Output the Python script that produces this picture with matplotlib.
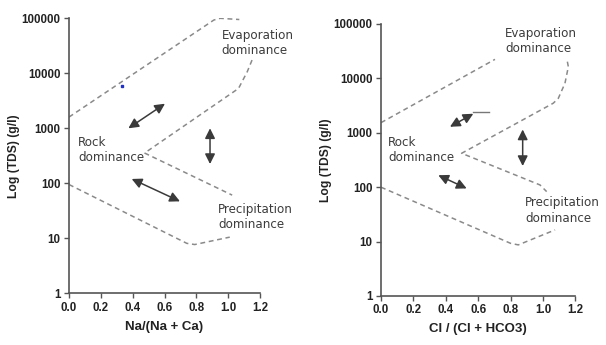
import matplotlib
matplotlib.use("Agg")
import matplotlib.pyplot as plt
from matplotlib.ticker import FixedLocator, FixedFormatter, NullLocator

# ---------------- data ----------------
x_ticks = [0.0, 0.2, 0.4, 0.6, 0.8, 1.0, 1.2]
x_tick_labels = ["0.0", "0.2", "0.4", "0.6", "0.8", "1.0", "1.2"]
y_ticks = [1, 10, 100, 1000, 10000, 100000]
y_tick_labels = ["1", "10", "100", "1000", "10000", "100000"]

# Left panel: Na/(Na + Ca)
na_upper_x = [0.0, 0.91, 0.95, 1.07]
na_upper_y = [1600, 93000, 100000, 95000]
na_mid_x = [1.15, 1.12, 1.065, 0.475, 1.025]
na_mid_y = [17400, 10700, 5300, 355, 61]
na_lower_x = [0.0, 0.74, 0.79, 1.01]
na_lower_y = [95, 8.1, 7.7, 10.5]
na_dot_x = [0.331]
na_dot_y = [5900]
na_arrows = [((0.373, 1000), (0.603, 2800)),
             ((0.886, 1000), (0.886, 224)),
             ((0.394, 120), (0.697, 47))]
na_labels = ["Evaporation\ndominance", "Rock\ndominance", "Precipitation\ndominance"]
na_label_pos = [(0.959, 64000), (0.058, 720), (0.938, 44)]

# Right panel: Cl / (Cl + HCO3)
cl_upper_x = [0.0, 0.704]
cl_upper_y = [1535, 22400]
cl_mid_x = [1.151, 1.157, 1.136, 1.095, 1.064, 0.498, 0.982, 1.023]
cl_mid_y = [20300, 16400, 8100, 4300, 3500, 420, 110, 83]
cl_lower_x = [0.0, 0.80, 0.848, 1.075]
cl_lower_y = [100, 9.3, 8.7, 16.4]
cl_mark_x = [0.57, 0.67]
cl_mark_y = [2450, 2450]
cl_arrows = [((0.426, 1290), (0.570, 2240)),
             ((0.875, 1150), (0.875, 245)),
             ((0.354, 166), (0.529, 95))]
cl_labels = ["Evaporation\ndominance", "Rock\ndominance", "Precipitation\ndominance"]
cl_label_pos = [(0.766, 89000), (0.045, 870), (0.889, 68)]

# ---------------- style ----------------
DASH_COLOR = "#8a8a8a"
ARROW_COLOR = "#3a3a3a"
TEXT_COLOR = "#3c3c3c"
SPINE_COLOR = "#555555"
LABEL_FONT = dict(family="Liberation Sans", weight="bold")

fig = plt.figure(figsize=(6.06, 3.45), dpi=100)
fig.patch.set_facecolor("white")

ax1 = fig.add_axes([69 / 606, 1 - 293.3 / 345, 191 / 606, 275 / 345])
ax2 = fig.add_axes([381 / 606, 1 - 296 / 345, 194.3 / 606, 272 / 345])


def style_axes(ax, xlabel):
    ax.set_yscale("log")
    ax.set_xlim(0, 1.2)
    ax.set_ylim(1, 100000)
    ax.xaxis.set_major_locator(FixedLocator(x_ticks))
    ax.xaxis.set_major_formatter(FixedFormatter(x_tick_labels))
    ax.yaxis.set_major_locator(FixedLocator(y_ticks))
    ax.yaxis.set_major_formatter(FixedFormatter(y_tick_labels))
    ax.yaxis.set_minor_locator(NullLocator())
    ax.xaxis.set_minor_locator(NullLocator())
    for s in ["top", "right"]:
        ax.spines[s].set_visible(False)
    for s in ["left", "bottom"]:
        ax.spines[s].set_color(SPINE_COLOR)
        ax.spines[s].set_linewidth(1.2)
    ax.tick_params(direction="out", length=3.5, width=1.0, color=SPINE_COLOR,
                   pad=2.5, labelcolor="#222222", labelsize=8.3,
                   labelfontfamily="Liberation Sans")
    for lab in ax.get_xticklabels() + ax.get_yticklabels():
        lab.set_fontweight("bold")
    ax.set_xlabel(xlabel, fontsize=9.5, color="#222222", labelpad=5, **LABEL_FONT)
    ax.set_ylabel("Log (TDS) (g/l)", fontsize=8.7, color="#222222", **LABEL_FONT)
    ax.set_facecolor("white")


def draw_panel(ax, lines, arrows, labels, label_pos):
    for xs, ys in lines:
        ax.plot(xs, ys, color=DASH_COLOR, lw=1.1, linestyle=(0, (3.2, 2.4)),
                solid_capstyle="butt", dash_capstyle="butt")
    for (p0, p1) in arrows:
        ax.annotate("", xy=p1, xytext=p0,
                    arrowprops=dict(arrowstyle="<|-|>,head_length=0.6,head_width=0.3",
                                    color=ARROW_COLOR, lw=1.1,
                                    shrinkA=0, shrinkB=0))
    for txt, (x, y) in zip(labels, label_pos):
        ax.text(x, y, txt, ha="left", va="top", fontsize=8.6, color=TEXT_COLOR,
                family="DejaVu Sans", linespacing=1.22, clip_on=False)


style_axes(ax1, "Na/(Na + Ca)")
draw_panel(ax1,
           [(na_upper_x, na_upper_y), (na_mid_x, na_mid_y), (na_lower_x, na_lower_y)],
           na_arrows, na_labels, na_label_pos)
ax1.plot(na_dot_x, na_dot_y, marker="s", ms=1.8, color="#2030c0", lw=0)

style_axes(ax2, "Cl / (Cl + HCO3)")
draw_panel(ax2,
           [(cl_upper_x, cl_upper_y), (cl_mid_x, cl_mid_y), (cl_lower_x, cl_lower_y)],
           cl_arrows, cl_labels, cl_label_pos)
ax2.plot(cl_mark_x, cl_mark_y, color="#777777", lw=1.0)

ax1.yaxis.set_label_coords(-0.257, 0.5)
ax2.yaxis.set_label_coords(-0.252, 0.5)

fig.savefig("out.png", dpi=100, facecolor="white")
